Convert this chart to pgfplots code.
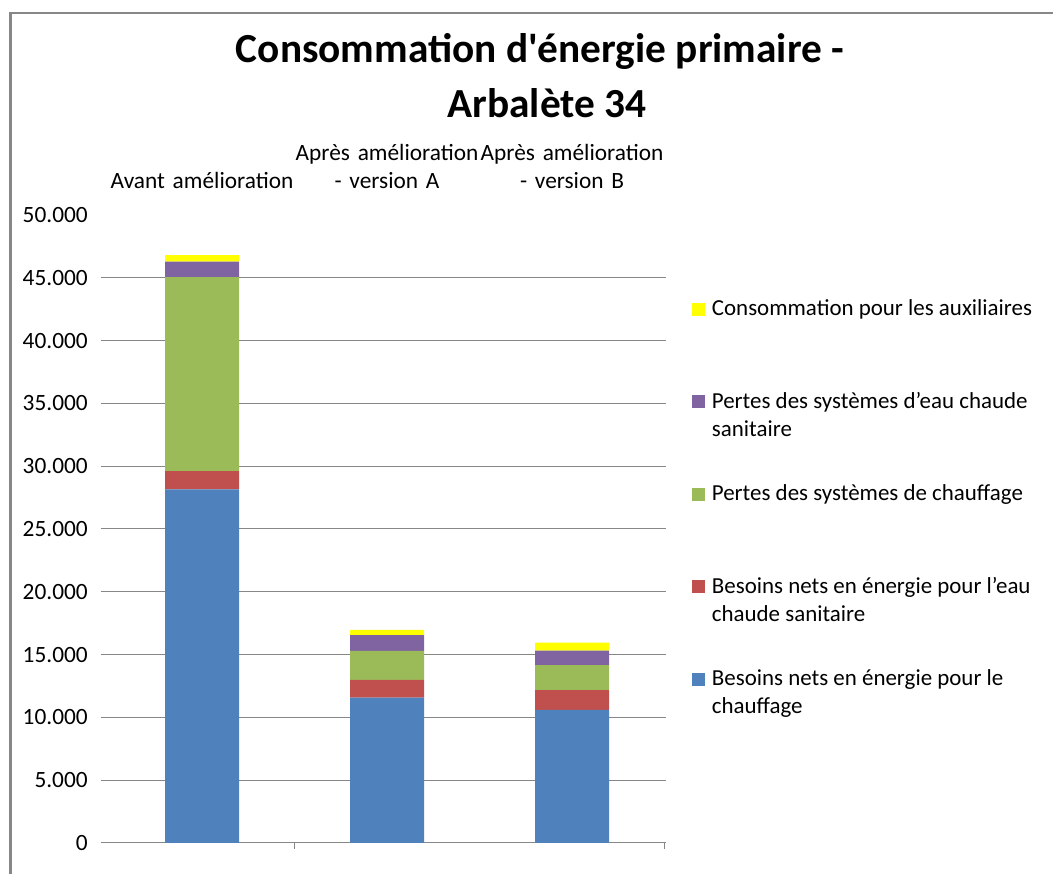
\documentclass[border=0pt]{standalone}
\usepackage{fontspec}
\setmainfont{Carlito}[Ligatures=TeXOff]
\usepackage{pgfplots}
\pgfplotsset{compat=1.18}
\definecolor{cblue}{HTML}{4F81BD}
\definecolor{cred}{HTML}{C0504D}
\definecolor{cgreen}{HTML}{9BBB59}
\definecolor{cpurple}{HTML}{8064A2}
\definecolor{cyellow}{HTML}{FFFF00}
\definecolor{gridgray}{HTML}{878787}
\newcommand\leg[1]{\parbox[t]{262pt}{\fontsize{17.2}{21}\selectfont\raggedright #1}}
\begin{document}
\begin{tikzpicture}
\useasboundingbox (0,0) rectangle (789.75pt,655.5pt);
\begin{axis}[
  at={(75.75pt,23.25pt)}, anchor=south west,
  scale only axis, width=423.5pt, height=471pt,
  xmin=-0.546, xmax=2.506, ymin=0, ymax=50000,
  ybar stacked, bar width=0.4,
  axis line style={draw=none},
  major tick length=0pt,
  xtick={0,1,2},
  xticklabels={Avant amélioration, Après amélioration\\- version A, Après amélioration\\- version B},
  xticklabel pos=right, xtick pos=left,
  extra x ticks={0.5,2.5}, extra x tick labels={},
  extra x tick style={major tick length=4.5pt, tick align=outside, tick style={gridgray, line width=0.75pt}},
  ytick={0,5000,...,45000},
  extra y ticks={50000}, extra y tick style={grid=none},
  ymajorgrids, grid style={gridgray, line width=0.75pt},
  scaled y ticks=false,
  /pgf/number format/.cd, 1000 sep={.}, assume math mode=true,
  /pgfplots/.cd,
  xticklabel style={font=\fontsize{17.5}{21}\selectfont, align=center, text width=139pt, anchor=south, inner sep=0pt, yshift=19.5pt},
  yticklabel style={font=\fontsize{17.5}{18}\selectfont, anchor=east, inner sep=0pt, xshift=-9.75pt},
  reverse legend,
  legend cell align=left,
  legend style={draw=none, fill=none, at={(1.0466,0.8716)}, anchor=north west, inner sep=0pt, row sep=50.8pt, column sep=3pt, cells={anchor=base west, text height=13pt, text depth=0pt}},
  legend image code/.code={\fill[#1] (0pt,0pt) rectangle (9.75pt,9.75pt);},
]
\addplot[fill=cblue, draw=none] coordinates {(0,28150) (1,11570) (2,10590)};
\addlegendentry{\leg{Besoins nets en énergie pour le\\chauffage}}
\addplot[fill=cred, draw=none] coordinates {(0,1460) (1,1410) (2,1590)};
\addlegendentry{\leg{Besoins nets en énergie pour l’eau\\chaude sanitaire}}
\addplot[fill=cgreen, draw=none] coordinates {(0,15450) (1,2310) (2,1990)};
\addlegendentry{\leg{Pertes des systèmes de chauffage}}
\addplot[fill=cpurple, draw=none] coordinates {(0,1220) (1,1270) (2,1140)};
\addlegendentry{\leg{Pertes des systèmes d’eau chaude\\sanitaire}}
\addplot[fill=cyellow, draw=none] coordinates {(0,530) (1,400) (2,640)};
\addlegendentry{\leg{Consommation pour les auxiliaires}}
\end{axis}
\node[anchor=base, font=\fontsize{31}{36}\selectfont\bfseries] at (405pt,608.25pt) {Consommation d'énergie primaire -};
\node[anchor=base, font=\fontsize{31}{36}\selectfont\bfseries] at (410.25pt,567pt) {Arbalète 34};
\draw[line width=2pt, gridgray] (7.7pt,-5pt) -- (7.7pt,645.75pt) -- (800pt,645.75pt);
\end{tikzpicture}
\end{document}
